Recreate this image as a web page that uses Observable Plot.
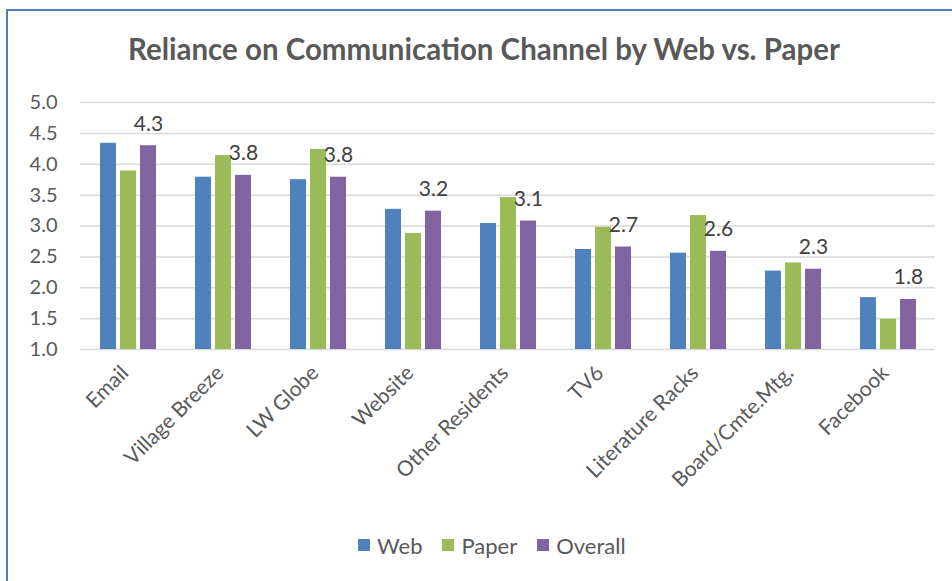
<!DOCTYPE html>
<html><head><meta charset="utf-8">
<script src="https://cdn.jsdelivr.net/npm/d3@7"></script>
<script src="https://cdn.jsdelivr.net/npm/@observablehq/plot@0.6"></script>
<style>
body{margin:0;background:#fff;}
#wrap{position:relative;width:952px;height:581px;overflow:hidden;font-family:Lato,"Open Sans",sans-serif;}
#bt{position:absolute;left:6px;top:9px;width:946px;height:2px;background:#4A7EBB;}
#bl{position:absolute;left:6px;top:9px;width:2px;height:572px;background:#4A7EBB;}
#title{position:absolute;top:33px;left:484px;white-space:nowrap;font-size:30px;font-weight:700;line-height:1;color:#595959;transform-origin:center top;}
#chart{position:absolute;top:80px;left:0;}
#legend{position:absolute;top:532px;left:358px;display:flex;align-items:center;height:26px;font-size:22px;color:#595959;white-space:nowrap;}
#legend .it{display:flex;align-items:center;margin-right:20px;}
#legend .sw{width:12px;height:12px;margin-right:7px;}
</style></head>
<body><div id="wrap">
<div id="bt"></div><div id="bl"></div>
<div id="title">Reliance on Communication Channel by Web vs. Paper</div>
<div id="chart"></div>
<div id="legend"></div>
</div>
<script>
const categories = ["Email","Village Breeze","LW Globe","Website","Other Residents","TV6","Literature Racks","Board/Cmte.Mtg.","Facebook"];
const series = ["Web","Paper","Overall"];
const web     = [4.34,3.79,3.75,3.27,3.04,2.62,2.56,2.27,1.84];
const paper   = [3.89,4.14,4.24,2.88,3.46,2.98,3.17,2.40,1.49];
const overall = [4.30,3.82,3.79,3.24,3.08,2.66,2.59,2.30,1.81];
const colors  = ["#4F81BD","#9BBB59","#8064A2"];
const yTicks  = [1.0,1.5,2.0,2.5,3.0,3.5,4.0,4.5,5.0];

const valuesBySeries = {Web: web, Paper: paper, Overall: overall};
const data = categories.flatMap((c, i) => series.map(s => ({category: c, series: s, value: valuesBySeries[s][i]})));
const fmt = d3.format(".1f");

const chart = Plot.plot({
  width: 952,
  height: 435,
  marginTop: 22,
  marginBottom: 166,
  marginLeft: 78,
  marginRight: 16,
  style: {fontFamily: "Lato, 'Open Sans', sans-serif", background: "transparent"},
  fx: {domain: categories, paddingInner: 0, paddingOuter: 0, label: null},
  x: {domain: series, paddingInner: 0.2, paddingOuter: 0.9, axis: null},
  y: {domain: [1, 5], axis: null},
  color: {domain: series, range: colors},
  marks: [
    Plot.gridY(yTicks, {stroke: "#d9d9d9", strokeOpacity: 1, strokeWidth: 1.5}),
    Plot.barY(data, {fx: "category", x: "series", y1: 1, y2: "value", fill: "series"}),
    Plot.text(data.filter(d => d.series === "Overall"), {fx: "category", x: "series", y: "value", text: d => fmt(d.value), lineAnchor: "bottom", dy: -15, fontSize: 21, fill: "#404040"}),
    Plot.axisY(yTicks, {tickSize: 0, tickPadding: 23, tickFormat: fmt, fontSize: 20, fill: "#595959", label: null}),
    Plot.axisFx({anchor: "bottom", tickRotate: -45, tickSize: 0, tickPadding: 20, dx: -3, fontSize: 21, fill: "#595959", label: null})
  ]
});
document.getElementById("chart").appendChild(chart);

const legend = document.getElementById("legend");
series.forEach((s, i) => {
  const it = document.createElement("div"); it.className = "it";
  const sw = document.createElement("div"); sw.className = "sw"; sw.style.background = colors[i];
  const tx = document.createElement("span"); tx.textContent = s;
  it.appendChild(sw); it.appendChild(tx); legend.appendChild(it);
});

const title = document.getElementById("title");
const w = title.getBoundingClientRect().width;
title.style.transform = `translateX(-50%) scaleX(${712 / w})`;
</script>
</body></html>
